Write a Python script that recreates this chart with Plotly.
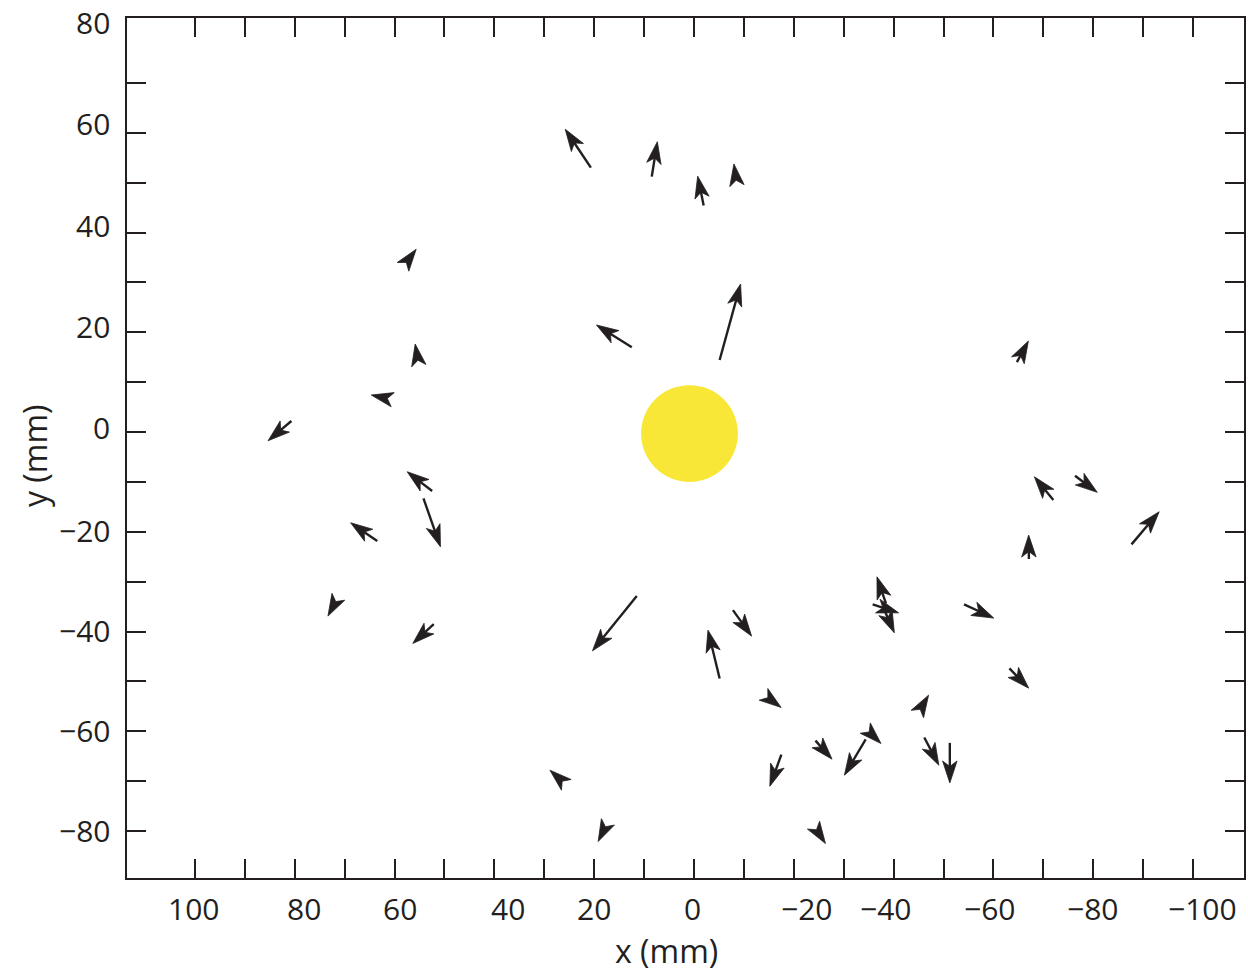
import numpy as np
import plotly.graph_objects as go

# ---------------- data (mm) ----------------
tail_x = [20.66, 8.46, -1.94, -8.42, -5.14, 12.46, 57.46, 55.36, 61.72, 80.66,
          52.46, 54.20, 63.46, 71.92, 52.14, 11.46, -5.14, -7.80, -15.06, -17.50,
          -24.34, -34.40, -35.32, 26.62, 17.86, -24.70, -38.46, -35.80, -38.14, -54.10,
          -63.20, -45.46, -46.14, -51.26, -64.70, -72.00, -76.34, -67.10, -87.66]
tail_y = [53.0, 51.2, 45.4, 50.76, 14.44, 16.99, 34.24, 14.68, 6.78, 2.21,
          -11.83, -13.30, -21.86, -34.26, -38.51, -32.89, -49.40, -35.70, -53.43, -64.68,
          -61.87, -61.63, -60.33, -69.80, -79.38, -79.96, -34.36, -34.56, -35.70, -34.54,
          -47.39, -55.34, -61.23, -62.31, 14.02, -13.64, -8.76, -25.47, -22.52]
tip_x = [25.80, 7.34, -0.74, -8.00, -9.34, 19.54, 55.66, 55.86, 64.66, 85.34,
         57.46, 50.80, 68.80, 73.34, 56.34, 20.34, -2.80, -11.54, -17.46, -15.20,
         -27.66, -30.14, -37.46, 28.86, 19.20, -26.34, -36.66, -41.00, -40.14, -60.06,
         -67.06, -47.00, -49.06, -51.26, -67.00, -68.20, -80.80, -67.06, -93.20]
tip_y = [60.7, 58.2, 51.3, 53.75, 29.68, 21.46, 36.64, 17.65, 7.42, -1.74,
         -7.96, -23.00, -18.19, -36.90, -42.38, -43.86, -39.71, -40.91, -55.21, -71.00,
         -65.58, -68.79, -62.43, -67.79, -82.09, -82.49, -29.02, -36.24, -40.25, -37.30,
         -51.34, -52.75, -66.79, -70.34, 18.25, -8.97, -12.09, -20.66, -15.98]

# sun (yellow disc)
sun_x, sun_y, sun_r = 0.9, -0.3, 9.7

# tick labels and where their text sits
x_tick_text = ["100", "80", "60", "40", "20", "0", "\u221220", "\u221240", "\u221260", "\u221280", "\u2212100"]
x_tick_pos = [100.2, 78.2, 59.0, 37.2, 20.0, 0.2, -22.6, -38.4, -59.2, -79.8, -101.8]
y_tick_text = ["80", "60", "40", "20", "0", "\u221220", "\u221240", "\u221260", "\u221280"]
y_tick_pos = [82.0, 61.8, 41.5, 21.1, 1.0, -19.65, -39.7, -59.8, -79.8]
x_tick_marks = list(range(-100, 101, 10))
y_tick_marks = list(range(-80, 71, 10))

INK = "#231f20"
FONT = "Open Sans"

# ---------------- arrow geometry ----------------
HEAD_L, HEAD_W, HEAD_N = 4.4, 1.45, 3.3
sx, sy = [], []
hx, hy = [], []
for x0, y0, x1, y1 in zip(tail_x, tail_y, tip_x, tip_y):
    dx, dy = x1 - x0, y1 - y0
    d = np.hypot(dx, dy)
    ux, uy = dx / d, dy / d
    px, py = -uy, ux
    if d > HEAD_N + 0.1:
        ex, ey = x1 - (HEAD_N - 0.4) * ux, y1 - (HEAD_N - 0.4) * uy
        sx += [x0, ex, None]
        sy += [y0, ey, None]
    bx, by = x1 - HEAD_L * ux, y1 - HEAD_L * uy
    nx, ny = x1 - HEAD_N * ux, y1 - HEAD_N * uy
    hx += [x1, bx + HEAD_W * px, nx, bx - HEAD_W * px, x1, None]
    hy += [y1, by + HEAD_W * py, ny, by - HEAD_W * py, y1, None]

fig = go.Figure()
fig.add_trace(go.Scatter(x=sx, y=sy, mode="lines", line=dict(color=INK, width=2.4),
                         hoverinfo="skip", showlegend=False))
fig.add_trace(go.Scatter(x=hx, y=hy, mode="lines", fill="toself", fillcolor=INK,
                         line=dict(color=INK, width=0.8), hoverinfo="skip", showlegend=False))

fig.add_shape(type="circle", xref="x", yref="y",
              x0=sun_x - sun_r, x1=sun_x + sun_r, y0=sun_y - sun_r, y1=sun_y + sun_r,
              fillcolor="#f8e736", line=dict(width=0), layer="below")

annotations = []
for t, p in zip(x_tick_text, x_tick_pos):
    annotations.append(dict(text=t, x=p, xref="x", y=0, yref="paper", yanchor="middle",
                            xanchor="center", yshift=-30, showarrow=False,
                            font=dict(family=FONT, size=30, color=INK)))
for t, p in zip(y_tick_text, y_tick_pos):
    annotations.append(dict(text=t, x=0, xref="paper", y=p, yref="y", xanchor="right",
                            yanchor="middle", xshift=-15, showarrow=False,
                            font=dict(family=FONT, size=30, color=INK)))
annotations.append(dict(text="x (mm)", x=0.4826, xref="paper", y=0, yref="paper",
                        xanchor="center", yanchor="middle", yshift=-72, showarrow=False,
                        font=dict(family=FONT, size=32, color=INK)))
annotations.append(dict(text="y (mm)", x=0, xref="paper", y=0.4907, yref="paper",
                        xanchor="center", yanchor="middle", xshift=-92, textangle=-90,
                        showarrow=False, font=dict(family=FONT, size=32, color=INK)))

axis_common = dict(showgrid=False, zeroline=False, showline=True, linewidth=2, linecolor=INK,
                   ticks="inside", ticklen=19, tickwidth=2, tickcolor=INK, mirror="ticks",
                   showticklabels=False, tickmode="array")
fig.update_layout(
    width=1248, height=972,
    margin=dict(l=127, r=2, t=18, b=94),
    paper_bgcolor="white", plot_bgcolor="white",
    xaxis=dict(range=[113.6, -110.2], tickvals=x_tick_marks, **axis_common),
    yaxis=dict(range=[-89.4, 83.0], tickvals=y_tick_marks, **axis_common),
    annotations=annotations,
    showlegend=False,
)

fig.write_html("out.html",
               config={"displayModeBar": False},
               post_script="document.body.style.margin='0';document.body.style.overflow='hidden';")
